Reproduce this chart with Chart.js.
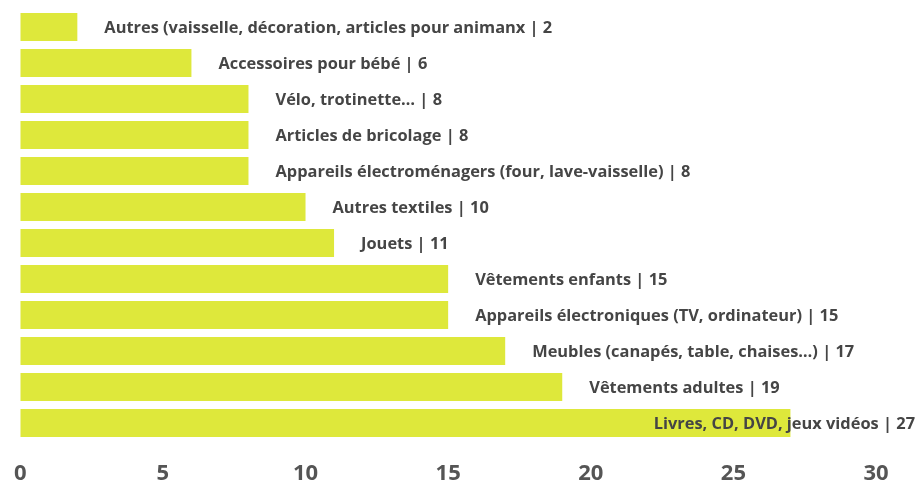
<!DOCTYPE html>
<html>
<head>
<meta charset="utf-8">
<script src="https://cdn.jsdelivr.net/npm/chart.js@4"></script>
<style>
  html, body { margin: 0; padding: 0; background: #fff; }
  #wrap { width: 917px; height: 481px; }
</style>
</head>
<body>
<div id="wrap"><canvas id="chartObjets"></canvas></div>
<script>
const categories = [
  'Autres (vaisselle, décoration, articles pour animanx',
  'Accessoires pour bébé',
  'Vélo, trotinette…',
  'Articles de bricolage',
  'Appareils électroménagers (four, lave-vaisselle)',
  'Autres textiles',
  'Jouets',
  'Vêtements enfants',
  'Appareils électroniques (TV, ordinateur)',
  'Meubles (canapés, table, chaises…)',
  'Vêtements adultes',
  'Livres, CD, DVD, jeux vidéos'
];
const values = [2, 6, 8, 8, 8, 10, 11, 15, 15, 17, 19, 27];
const xTicks = [0, 5, 10, 15, 20, 25, 30];

const barColor = '#dee83b';
const textColor = '#454545';

const barLabels = {
  id: 'barLabels',
  afterDatasetsDraw(chart) {
    const ctx = chart.ctx;
    const meta = chart.getDatasetMeta(0);
    ctx.save();
    ctx.font = 'bold 16.4px "Open Sans"';
    ctx.fillStyle = textColor;
    ctx.textBaseline = 'middle';
    ctx.textAlign = 'left';
    meta.data.forEach((bar, i) => {
      const txt = categories[i] + ' | ' + values[i];
      const w = ctx.measureText(txt).width;
      let x = bar.x + 27;
      if (x + w > chart.width - 2) x = chart.width - 2 - w;
      ctx.fillText(txt, x, bar.y + 1);
    });
    ctx.restore();
  }
};

new Chart(document.getElementById('chartObjets'), {
  type: 'bar',
  data: {
    labels: categories,
    datasets: [{
      data: values,
      backgroundColor: barColor,
      borderWidth: 0,
      barPercentage: 0.78,
      categoryPercentage: 1
    }]
  },
  options: {
    indexAxis: 'y',
    responsive: true,
    maintainAspectRatio: false,
    animation: false,
    layout: { padding: { left: 7, right: 41, top: 9, bottom: 0 } },
    plugins: {
      legend: { display: false },
      tooltip: { enabled: false }
    },
    scales: {
      y: { display: false },
      x: {
        min: 0,
        max: 30,
        afterFit: s => { s.height = 40; },
        afterBuildTicks: s => { s.ticks = xTicks.map(v => ({ value: v })); },
        grid: { display: false },
        border: { display: false },
        ticks: {
          padding: 14,
          color: '#555',
          font: { family: 'Open Sans', size: 22, weight: 'bold', lineHeight: 1 }
        }
      }
    }
  },
  plugins: [barLabels]
});
</script>
</body>
</html>
